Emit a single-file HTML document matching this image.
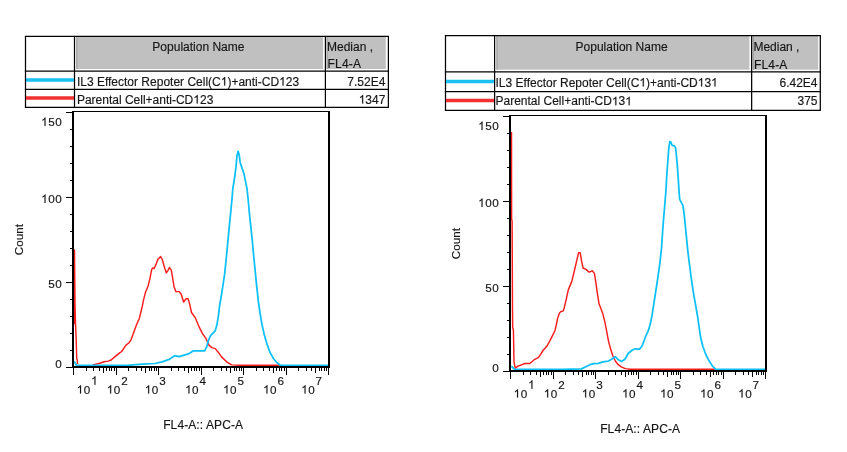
<!DOCTYPE html>
<html><head><meta charset="utf-8"><title>FL4-A histograms</title>
<style>
html,body{margin:0;padding:0;background:#fff;}
svg{display:block;will-change:transform;}
text{font-family:"Liberation Sans",sans-serif;fill:#161616;stroke:#161616;stroke-width:0.16px;}
.h{fill:none;stroke:none;}
.g1{fill:#161616;stroke:#161616;stroke-width:27;}
</style></head><body>
<svg width="847" height="452" viewBox="0 0 847 452">
<defs><path id="one" d="M763 0H583V-1147Q518 -1085 412.5 -1023T223 -930V-1104Q374 -1175 487 -1276T647 -1472H763Z"/></defs>
<rect width="847" height="452" fill="#fff"/>
<rect x="76.4" y="36.9" width="246.7" height="32.1" fill="#c0c0c0"/>
<rect x="326.6" y="36.9" width="59.2" height="32.1" fill="#c0c0c0"/>
<path d="M76.8 68.9V37.0" fill="none" stroke="#8c8c8c" stroke-width="0.8"/>
<path d="M327.0 68.9V37.0" fill="none" stroke="#8c8c8c" stroke-width="0.8"/>
<line x1="24.9" x2="388.9" y1="36.45" y2="36.45" stroke="#000" stroke-width="1.25"/>
<line x1="24.9" x2="388.9" y1="71.20" y2="71.20" stroke="#000" stroke-width="1.25"/>
<line x1="24.9" x2="388.9" y1="89.30" y2="89.30" stroke="#000" stroke-width="1.25"/>
<line x1="24.9" x2="388.9" y1="107.40" y2="107.40" stroke="#000" stroke-width="1.25"/>
<line x1="25.50" x2="25.50" y1="36.5" y2="107.4" stroke="#000" stroke-width="1.25"/>
<line x1="74.50" x2="74.50" y1="36.5" y2="107.4" stroke="#000" stroke-width="1.25"/>
<line x1="325.40" x2="325.40" y1="36.5" y2="107.4" stroke="#000" stroke-width="1.25"/>
<line x1="388.40" x2="388.40" y1="36.5" y2="107.4" stroke="#000" stroke-width="1.25"/>
<line x1="26.0" x2="74.0" y1="80.0" y2="80.0" stroke="#1ac0f2" stroke-width="3.5"/>
<line x1="26.0" x2="74.0" y1="98.0" y2="98.0" stroke="#f03030" stroke-width="3.5"/>
<text x="198.4" y="50.6" font-size="12" text-anchor="middle">Population Name</text>
<text x="327.0" y="50.6" font-size="12">Median ,</text>
<text x="327.6" y="68.4" font-size="12" letter-spacing="0.2">FL4-A</text>
<text x="76.9" y="85.6" font-size="12">IL3 Effector Repoter Cell(C<tspan class="h">1</tspan>)+anti-CD<tspan class="h">1</tspan>23</text>
<text x="76.9" y="103.6" font-size="12">Parental Cell+anti-CD<tspan class="h">1</tspan>23</text>
<text x="385.4" y="85.6" font-size="12" text-anchor="end">7.52E4</text>
<text x="385.4" y="103.6" font-size="12" text-anchor="end"><tspan class="h">1</tspan>347</text>
<rect x="496.5" y="35.9" width="252.9" height="33.8" fill="#c0c0c0"/>
<rect x="752.9" y="35.9" width="65.3" height="33.8" fill="#c0c0c0"/>
<path d="M496.9 69.7V36.0" fill="none" stroke="#8c8c8c" stroke-width="0.8"/>
<path d="M753.2 69.7V36.0" fill="none" stroke="#8c8c8c" stroke-width="0.8"/>
<line x1="444.9" x2="820.8" y1="35.50" y2="35.50" stroke="#000" stroke-width="1.25"/>
<line x1="444.9" x2="820.8" y1="71.95" y2="71.95" stroke="#000" stroke-width="1.25"/>
<line x1="444.9" x2="820.8" y1="91.50" y2="91.50" stroke="#000" stroke-width="1.25"/>
<line x1="444.9" x2="820.8" y1="110.30" y2="110.30" stroke="#000" stroke-width="1.25"/>
<line x1="445.50" x2="445.50" y1="35.5" y2="110.3" stroke="#000" stroke-width="1.25"/>
<line x1="494.60" x2="494.60" y1="35.5" y2="110.3" stroke="#000" stroke-width="1.25"/>
<line x1="751.65" x2="751.65" y1="35.5" y2="110.3" stroke="#000" stroke-width="1.25"/>
<line x1="820.30" x2="820.30" y1="35.5" y2="110.3" stroke="#000" stroke-width="1.25"/>
<line x1="446.0" x2="494.1" y1="81.4" y2="81.4" stroke="#1ac0f2" stroke-width="3.5"/>
<line x1="446.0" x2="494.1" y1="100.6" y2="100.6" stroke="#f03030" stroke-width="3.5"/>
<text x="621.6" y="50.7" font-size="12" text-anchor="middle">Population Name</text>
<text x="753.4" y="50.7" font-size="12">Median ,</text>
<text x="753.9" y="68.7" font-size="12" letter-spacing="0.2">FL4-A</text>
<text x="495.5" y="86.5" font-size="12">IL3 Effector Repoter Cell(C<tspan class="h">1</tspan>)+anti-CD<tspan class="h">1</tspan>3<tspan class="h">1</tspan></text>
<text x="495.5" y="105.3" font-size="12">Parental Cell+anti-CD<tspan class="h">1</tspan>3<tspan class="h">1</tspan></text>
<text x="817.5" y="86.5" font-size="12" text-anchor="end">6.42E4</text>
<text x="817.5" y="105.3" font-size="12" text-anchor="end">375</text>
<rect x="66" y="367" width="7" height="1" fill="#000"/>
<rect x="70" y="350" width="3" height="1" fill="#000"/>
<rect x="70" y="333" width="3" height="1" fill="#000"/>
<rect x="70" y="316" width="3" height="1" fill="#000"/>
<rect x="70" y="299" width="3" height="1" fill="#000"/>
<rect x="66" y="282" width="7" height="1" fill="#000"/>
<rect x="70" y="265" width="3" height="1" fill="#000"/>
<rect x="70" y="248" width="3" height="1" fill="#000"/>
<rect x="70" y="231" width="3" height="1" fill="#000"/>
<rect x="70" y="214" width="3" height="1" fill="#000"/>
<rect x="66" y="197" width="7" height="1" fill="#000"/>
<rect x="70" y="180" width="3" height="1" fill="#000"/>
<rect x="70" y="163" width="3" height="1" fill="#000"/>
<rect x="70" y="146" width="3" height="1" fill="#000"/>
<rect x="70" y="129" width="3" height="1" fill="#000"/>
<rect x="66" y="112" width="7" height="1" fill="#000"/>
<rect x="73" y="368" width="1" height="7" fill="#000"/>
<rect x="86" y="368" width="1" height="3" fill="#000"/>
<rect x="93" y="368" width="1" height="3" fill="#000"/>
<rect x="99" y="368" width="1" height="3" fill="#000"/>
<rect x="103" y="368" width="1" height="5" fill="#000"/>
<rect x="106" y="368" width="1" height="3" fill="#000"/>
<rect x="109" y="368" width="1" height="3" fill="#000"/>
<rect x="111" y="368" width="1" height="3" fill="#000"/>
<rect x="114" y="368" width="1" height="3" fill="#000"/>
<rect x="116" y="368" width="1" height="7" fill="#000"/>
<rect x="128" y="368" width="1" height="3" fill="#000"/>
<rect x="136" y="368" width="1" height="3" fill="#000"/>
<rect x="141" y="368" width="1" height="3" fill="#000"/>
<rect x="145" y="368" width="1" height="5" fill="#000"/>
<rect x="149" y="368" width="1" height="3" fill="#000"/>
<rect x="151" y="368" width="1" height="3" fill="#000"/>
<rect x="154" y="368" width="1" height="3" fill="#000"/>
<rect x="156" y="368" width="1" height="3" fill="#000"/>
<rect x="158" y="368" width="1" height="7" fill="#000"/>
<rect x="171" y="368" width="1" height="3" fill="#000"/>
<rect x="178" y="368" width="1" height="3" fill="#000"/>
<rect x="184" y="368" width="1" height="3" fill="#000"/>
<rect x="188" y="368" width="1" height="5" fill="#000"/>
<rect x="191" y="368" width="1" height="3" fill="#000"/>
<rect x="194" y="368" width="1" height="3" fill="#000"/>
<rect x="196" y="368" width="1" height="3" fill="#000"/>
<rect x="199" y="368" width="1" height="3" fill="#000"/>
<rect x="201" y="368" width="1" height="7" fill="#000"/>
<rect x="213" y="368" width="1" height="3" fill="#000"/>
<rect x="221" y="368" width="1" height="3" fill="#000"/>
<rect x="226" y="368" width="1" height="3" fill="#000"/>
<rect x="230" y="368" width="1" height="5" fill="#000"/>
<rect x="234" y="368" width="1" height="3" fill="#000"/>
<rect x="236" y="368" width="1" height="3" fill="#000"/>
<rect x="239" y="368" width="1" height="3" fill="#000"/>
<rect x="241" y="368" width="1" height="3" fill="#000"/>
<rect x="243" y="368" width="1" height="7" fill="#000"/>
<rect x="256" y="368" width="1" height="3" fill="#000"/>
<rect x="263" y="368" width="1" height="3" fill="#000"/>
<rect x="269" y="368" width="1" height="3" fill="#000"/>
<rect x="273" y="368" width="1" height="5" fill="#000"/>
<rect x="276" y="368" width="1" height="3" fill="#000"/>
<rect x="279" y="368" width="1" height="3" fill="#000"/>
<rect x="281" y="368" width="1" height="3" fill="#000"/>
<rect x="284" y="368" width="1" height="3" fill="#000"/>
<rect x="286" y="368" width="1" height="7" fill="#000"/>
<rect x="298" y="368" width="1" height="3" fill="#000"/>
<rect x="306" y="368" width="1" height="3" fill="#000"/>
<rect x="311" y="368" width="1" height="3" fill="#000"/>
<rect x="315" y="368" width="1" height="5" fill="#000"/>
<rect x="319" y="368" width="1" height="3" fill="#000"/>
<rect x="321" y="368" width="1" height="3" fill="#000"/>
<rect x="324" y="368" width="1" height="3" fill="#000"/>
<rect x="326" y="368" width="1" height="3" fill="#000"/>
<rect x="328" y="368" width="1" height="7" fill="#000"/>
<path d="M74.3 250.0 L74.4 323.0 L75.0 324.0 L74.5 323.0 L74.5 250.0 L75.0 304.0 L75.5 324.0 L76.2 339.3 L76.7 358.8 L77.3 360.0 L77.5 364.0 M92.7 364.9 L99.8 363.2 L104.0 361.8 L108.3 361.1 L111.1 360.0 L115.3 356.4 L119.6 352.9 L121.7 351.5 L126.0 345.1 L128.8 343.0 L130.9 340.1 L133.8 332.3 L136.6 324.5 L139.4 318.2 L140.8 312.5 L142.5 305.4 L143.2 301.3 L145.3 292.8 L148.2 285.7 L149.9 278.6 L151.7 269.4 L152.7 268.0 L154.1 268.7 L156.0 264.4 L157.8 259.5 L160.6 256.6 L162.3 259.5 L164.0 265.8 L166.3 272.9 L167.7 270.8 L169.4 267.5 L171.3 270.1 L172.5 277.2 L174.0 286.4 L175.8 291.6 L179.3 291.6 L181.2 294.2 L183.6 302.0 L186.1 298.7 L188.1 298.7 L189.5 303.4 L191.5 312.5 L195.5 318.2 L199.0 326.7 L202.6 333.8 L206.1 338.7 L209.0 345.1 L211.8 347.6 L215.3 348.6 L218.2 352.2 L221.7 357.1 L226.7 361.8 L231.6 364.9 L240.0 365.3 L279.8 365.3" fill="none" stroke="#f81c1c" stroke-width="1.45" stroke-linejoin="round"/>
<path d="M74.2 361.4 L76.4 365.2 L77.2 365.4 L126.7 365.3 L142.3 364.2 L155.0 363.5 L162.1 361.8 L169.2 359.3 L174.8 355.7 L179.1 356.7 L183.3 355.3 L188.4 353.9 L193.4 350.8 L204.7 350.8 L206.8 346.5 L208.3 340.8 L210.4 335.9 L215.1 330.9 L216.8 325.3 L218.5 315.3 L219.4 307.0 L221.8 292.8 L224.6 274.4 L226.5 256.0 L228.2 237.7 L230.3 216.4 L232.1 198.0 L232.7 189.6 L234.5 178.3 L236.0 166.9 L237.0 155.6 L238.1 151.3 L239.2 154.9 L240.2 162.7 L241.6 166.9 L243.8 173.3 L245.5 181.1 L247.0 188.9 L248.0 198.0 L249.7 216.4 L252.0 237.7 L253.7 256.0 L255.1 270.2 L256.8 287.2 L258.6 303.5 L260.0 312.5 L261.8 323.8 L264.2 334.5 L267.1 344.4 L269.9 352.2 L273.4 358.5 L277.0 362.8 L280.5 365.2 L285.0 365.4 L328.0 365.4" fill="none" stroke="#0cc0f8" stroke-width="1.75" stroke-linejoin="round"/>
<rect x="72" y="111" width="258" height="1" fill="#000"/>
<rect x="72" y="111" width="2" height="257" fill="#000"/>
<rect x="328" y="111" width="2" height="257" fill="#000"/>
<rect x="72" y="366" width="258" height="2" fill="#000"/>
<text x="76.7" y="393.6" font-size="11.7" letter-spacing="0.5"><tspan class="h">1</tspan>0</text>
<text x="91.1" y="384.7" font-size="11.7"><tspan class="h">1</tspan></text>
<text x="106.8" y="393.6" font-size="11.7" letter-spacing="0.5"><tspan class="h">1</tspan>0</text>
<text x="121.2" y="384.7" font-size="11.7">2</text>
<text x="144.8" y="393.6" font-size="11.7" letter-spacing="0.5"><tspan class="h">1</tspan>0</text>
<text x="159.2" y="384.7" font-size="11.7">3</text>
<text x="185.1" y="393.6" font-size="11.7" letter-spacing="0.5"><tspan class="h">1</tspan>0</text>
<text x="199.5" y="384.7" font-size="11.7">4</text>
<text x="223.1" y="393.6" font-size="11.7" letter-spacing="0.5"><tspan class="h">1</tspan>0</text>
<text x="237.5" y="384.7" font-size="11.7">5</text>
<text x="263.1" y="393.6" font-size="11.7" letter-spacing="0.5"><tspan class="h">1</tspan>0</text>
<text x="277.5" y="384.7" font-size="11.7">6</text>
<text x="301.2" y="393.6" font-size="11.7" letter-spacing="0.5"><tspan class="h">1</tspan>0</text>
<text x="315.6" y="384.7" font-size="11.7">7</text>
<text x="62.2" y="126.0" font-size="11.7" text-anchor="end" letter-spacing="0.5"><tspan class="h">1</tspan>50</text>
<text x="62.2" y="202.9" font-size="11.7" text-anchor="end" letter-spacing="0.5"><tspan class="h">1</tspan>00</text>
<text x="62.2" y="287.9" font-size="11.7" text-anchor="end" letter-spacing="0.5">50</text>
<text x="62.2" y="368.0" font-size="11.7" text-anchor="end" letter-spacing="0.5">0</text>
<text x="203.2" y="428.7" font-size="12" text-anchor="middle" letter-spacing="0.1">FL4-A:: APC-A</text>
<text transform="translate(22.8 239.7) rotate(-90)" font-size="11.7" text-anchor="middle">Count</text>
<rect x="503" y="371" width="7" height="1" fill="#000"/>
<rect x="507" y="354" width="3" height="1" fill="#000"/>
<rect x="507" y="337" width="3" height="1" fill="#000"/>
<rect x="507" y="320" width="3" height="1" fill="#000"/>
<rect x="507" y="303" width="3" height="1" fill="#000"/>
<rect x="503" y="286" width="7" height="1" fill="#000"/>
<rect x="507" y="269" width="3" height="1" fill="#000"/>
<rect x="507" y="252" width="3" height="1" fill="#000"/>
<rect x="507" y="235" width="3" height="1" fill="#000"/>
<rect x="507" y="218" width="3" height="1" fill="#000"/>
<rect x="503" y="201" width="7" height="1" fill="#000"/>
<rect x="507" y="184" width="3" height="1" fill="#000"/>
<rect x="507" y="167" width="3" height="1" fill="#000"/>
<rect x="507" y="150" width="3" height="1" fill="#000"/>
<rect x="507" y="133" width="3" height="1" fill="#000"/>
<rect x="503" y="116" width="7" height="1" fill="#000"/>
<rect x="510" y="372" width="1" height="7" fill="#000"/>
<rect x="523" y="372" width="1" height="3" fill="#000"/>
<rect x="530" y="372" width="1" height="3" fill="#000"/>
<rect x="536" y="372" width="1" height="3" fill="#000"/>
<rect x="540" y="372" width="1" height="5" fill="#000"/>
<rect x="543" y="372" width="1" height="3" fill="#000"/>
<rect x="546" y="372" width="1" height="3" fill="#000"/>
<rect x="548" y="372" width="1" height="3" fill="#000"/>
<rect x="551" y="372" width="1" height="3" fill="#000"/>
<rect x="553" y="372" width="1" height="7" fill="#000"/>
<rect x="565" y="372" width="1" height="3" fill="#000"/>
<rect x="573" y="372" width="1" height="3" fill="#000"/>
<rect x="578" y="372" width="1" height="3" fill="#000"/>
<rect x="582" y="372" width="1" height="5" fill="#000"/>
<rect x="586" y="372" width="1" height="3" fill="#000"/>
<rect x="588" y="372" width="1" height="3" fill="#000"/>
<rect x="591" y="372" width="1" height="3" fill="#000"/>
<rect x="593" y="372" width="1" height="3" fill="#000"/>
<rect x="595" y="372" width="1" height="7" fill="#000"/>
<rect x="608" y="372" width="1" height="3" fill="#000"/>
<rect x="615" y="372" width="1" height="3" fill="#000"/>
<rect x="621" y="372" width="1" height="3" fill="#000"/>
<rect x="625" y="372" width="1" height="5" fill="#000"/>
<rect x="628" y="372" width="1" height="3" fill="#000"/>
<rect x="631" y="372" width="1" height="3" fill="#000"/>
<rect x="633" y="372" width="1" height="3" fill="#000"/>
<rect x="636" y="372" width="1" height="3" fill="#000"/>
<rect x="638" y="372" width="1" height="7" fill="#000"/>
<rect x="650" y="372" width="1" height="3" fill="#000"/>
<rect x="658" y="372" width="1" height="3" fill="#000"/>
<rect x="663" y="372" width="1" height="3" fill="#000"/>
<rect x="667" y="372" width="1" height="5" fill="#000"/>
<rect x="671" y="372" width="1" height="3" fill="#000"/>
<rect x="673" y="372" width="1" height="3" fill="#000"/>
<rect x="676" y="372" width="1" height="3" fill="#000"/>
<rect x="678" y="372" width="1" height="3" fill="#000"/>
<rect x="680" y="372" width="1" height="7" fill="#000"/>
<rect x="693" y="372" width="1" height="3" fill="#000"/>
<rect x="700" y="372" width="1" height="3" fill="#000"/>
<rect x="706" y="372" width="1" height="3" fill="#000"/>
<rect x="710" y="372" width="1" height="5" fill="#000"/>
<rect x="713" y="372" width="1" height="3" fill="#000"/>
<rect x="716" y="372" width="1" height="3" fill="#000"/>
<rect x="718" y="372" width="1" height="3" fill="#000"/>
<rect x="721" y="372" width="1" height="3" fill="#000"/>
<rect x="723" y="372" width="1" height="7" fill="#000"/>
<rect x="735" y="372" width="1" height="3" fill="#000"/>
<rect x="743" y="372" width="1" height="3" fill="#000"/>
<rect x="748" y="372" width="1" height="3" fill="#000"/>
<rect x="752" y="372" width="1" height="5" fill="#000"/>
<rect x="756" y="372" width="1" height="3" fill="#000"/>
<rect x="758" y="372" width="1" height="3" fill="#000"/>
<rect x="761" y="372" width="1" height="3" fill="#000"/>
<rect x="763" y="372" width="1" height="3" fill="#000"/>
<rect x="765" y="372" width="1" height="7" fill="#000"/>
<path d="M511.5 132.0 L511.6 219.0 L512.1 221.0 L512.5 308.0 L512.7 327.5 L513.4 330.0 L514.0 361.8 L515.3 368.3 L517.8 366.1 L522.0 364.7 L524.8 363.5 L529.8 363.5 L531.9 361.8 L534.8 359.3 L538.3 357.6 L540.4 354.8 L543.0 350.5 L546.8 346.3 L549.6 341.3 L552.5 335.6 L554.9 330.7 L556.3 325.0 L557.7 317.9 L559.5 313.0 L561.0 311.5 L563.1 311.1 L564.2 308.0 L566.1 299.8 L568.3 289.9 L571.8 281.4 L574.2 271.5 L576.5 261.6 L578.5 252.8 L580.2 252.8 L581.7 261.6 L583.1 268.0 L586.0 269.4 L589.2 272.2 L592.3 270.8 L594.5 273.6 L595.9 282.8 L597.3 292.8 L599.1 304.1 L600.9 308.5 L602.8 313.7 L604.9 322.2 L606.7 331.4 L608.4 340.6 L610.6 349.1 L613.0 356.2 L615.6 361.5 L618.3 364.7 L621.2 366.8 L625.3 368.6 L630.5 369.3 L714.8 369.3" fill="none" stroke="#f81c1c" stroke-width="1.45" stroke-linejoin="round"/>
<path d="M511.4 366.1 L514.2 369.2 L516.0 369.4 L561.7 369.3 L581.5 368.9 L585.8 366.8 L590.0 364.7 L593.6 363.7 L598.5 363.3 L602.8 361.8 L608.4 361.1 L612.0 359.0 L615.2 356.7 L618.4 359.8 L621.5 361.5 L624.9 359.3 L628.4 353.3 L632.7 349.8 L635.5 348.8 L639.8 349.1 L642.3 345.5 L645.4 337.0 L648.3 330.7 L650.4 323.6 L652.1 315.1 L653.0 309.0 L655.1 295.6 L657.5 280.0 L659.9 263.0 L661.5 248.0 L662.7 230.5 L663.8 216.3 L665.0 202.2 L665.9 191.0 L666.7 176.8 L667.8 161.2 L668.8 148.4 L669.8 141.6 L670.9 142.0 L672.1 145.3 L674.0 145.6 L675.5 147.7 L676.3 154.1 L677.3 165.4 L678.3 179.6 L679.0 191.0 L679.7 199.3 L683.0 205.7 L684.4 216.3 L685.8 230.5 L687.2 244.7 L687.9 251.8 L689.3 263.0 L691.5 280.0 L693.9 295.6 L696.3 309.0 L697.6 316.5 L699.0 326.4 L700.7 337.8 L702.8 346.3 L705.6 354.0 L709.2 361.1 L712.7 366.4 L715.6 369.2 L719.0 369.4 L765.0 369.4" fill="none" stroke="#0cc0f8" stroke-width="1.75" stroke-linejoin="round"/>
<rect x="509" y="115" width="258" height="1" fill="#000"/>
<rect x="509" y="115" width="2" height="257" fill="#000"/>
<rect x="765" y="115" width="2" height="257" fill="#000"/>
<rect x="509" y="370" width="258" height="2" fill="#000"/>
<text x="513.7" y="397.6" font-size="11.7" letter-spacing="0.5"><tspan class="h">1</tspan>0</text>
<text x="528.1" y="388.7" font-size="11.7"><tspan class="h">1</tspan></text>
<text x="543.8" y="397.6" font-size="11.7" letter-spacing="0.5"><tspan class="h">1</tspan>0</text>
<text x="558.2" y="388.7" font-size="11.7">2</text>
<text x="581.8" y="397.6" font-size="11.7" letter-spacing="0.5"><tspan class="h">1</tspan>0</text>
<text x="596.2" y="388.7" font-size="11.7">3</text>
<text x="622.1" y="397.6" font-size="11.7" letter-spacing="0.5"><tspan class="h">1</tspan>0</text>
<text x="636.5" y="388.7" font-size="11.7">4</text>
<text x="660.1" y="397.6" font-size="11.7" letter-spacing="0.5"><tspan class="h">1</tspan>0</text>
<text x="674.5" y="388.7" font-size="11.7">5</text>
<text x="700.1" y="397.6" font-size="11.7" letter-spacing="0.5"><tspan class="h">1</tspan>0</text>
<text x="714.5" y="388.7" font-size="11.7">6</text>
<text x="738.2" y="397.6" font-size="11.7" letter-spacing="0.5"><tspan class="h">1</tspan>0</text>
<text x="752.6" y="388.7" font-size="11.7">7</text>
<text x="499.2" y="130.0" font-size="11.7" text-anchor="end" letter-spacing="0.5"><tspan class="h">1</tspan>50</text>
<text x="499.2" y="206.9" font-size="11.7" text-anchor="end" letter-spacing="0.5"><tspan class="h">1</tspan>00</text>
<text x="499.2" y="291.9" font-size="11.7" text-anchor="end" letter-spacing="0.5">50</text>
<text x="499.2" y="372.0" font-size="11.7" text-anchor="end" letter-spacing="0.5">0</text>
<text x="640.2" y="432.7" font-size="12" text-anchor="middle" letter-spacing="0.1">FL4-A:: APC-A</text>
<text transform="translate(459.8 243.7) rotate(-90)" font-size="11.7" text-anchor="middle">Count</text>
<use href="#one" class="g1" transform="translate(220.73 85.60) scale(0.005859)"/>
<use href="#one" class="g1" transform="translate(279.09 85.60) scale(0.005859)"/>
<use href="#one" class="g1" transform="translate(193.27 103.60) scale(0.005859)"/>
<use href="#one" class="g1" transform="translate(358.70 103.60) scale(0.005859)"/>
<use href="#one" class="g1" transform="translate(639.33 86.50) scale(0.005859)"/>
<use href="#one" class="g1" transform="translate(697.69 86.50) scale(0.005859)"/>
<use href="#one" class="g1" transform="translate(711.03 86.50) scale(0.005859)"/>
<use href="#one" class="g1" transform="translate(611.88 105.30) scale(0.005859)"/>
<use href="#one" class="g1" transform="translate(625.22 105.30) scale(0.005859)"/>
<use href="#one" class="g1" transform="translate(76.70 393.60) scale(0.005713)"/>
<use href="#one" class="g1" transform="translate(91.10 384.70) scale(0.005713)"/>
<use href="#one" class="g1" transform="translate(106.80 393.60) scale(0.005713)"/>
<use href="#one" class="g1" transform="translate(144.80 393.60) scale(0.005713)"/>
<use href="#one" class="g1" transform="translate(185.10 393.60) scale(0.005713)"/>
<use href="#one" class="g1" transform="translate(223.10 393.60) scale(0.005713)"/>
<use href="#one" class="g1" transform="translate(263.10 393.60) scale(0.005713)"/>
<use href="#one" class="g1" transform="translate(301.20 393.60) scale(0.005713)"/>
<use href="#one" class="g1" transform="translate(41.18 126.00) scale(0.005713)"/>
<use href="#one" class="g1" transform="translate(41.18 202.90) scale(0.005713)"/>
<use href="#one" class="g1" transform="translate(513.70 397.60) scale(0.005713)"/>
<use href="#one" class="g1" transform="translate(528.10 388.70) scale(0.005713)"/>
<use href="#one" class="g1" transform="translate(543.80 397.60) scale(0.005713)"/>
<use href="#one" class="g1" transform="translate(581.80 397.60) scale(0.005713)"/>
<use href="#one" class="g1" transform="translate(622.10 397.60) scale(0.005713)"/>
<use href="#one" class="g1" transform="translate(660.10 397.60) scale(0.005713)"/>
<use href="#one" class="g1" transform="translate(700.10 397.60) scale(0.005713)"/>
<use href="#one" class="g1" transform="translate(738.20 397.60) scale(0.005713)"/>
<use href="#one" class="g1" transform="translate(478.18 130.00) scale(0.005713)"/>
<use href="#one" class="g1" transform="translate(478.18 206.90) scale(0.005713)"/>
</svg>
</body></html>
